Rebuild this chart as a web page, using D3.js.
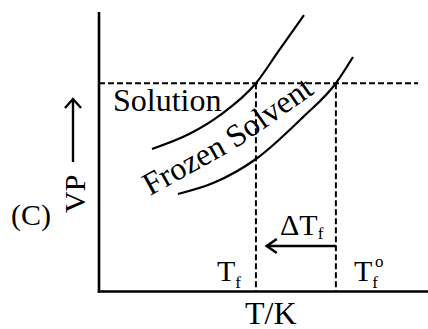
<!DOCTYPE html>
<html>
<head>
<meta charset="utf-8">
<script src="https://cdn.jsdelivr.net/npm/d3@7"></script>
</head>
<body style="margin:0;background:#fff">
<div id="wrap" style="position:relative;width:428px;height:329px;overflow:hidden">
  <svg id="chart" width="428" height="329" style="display:block;position:absolute;left:0;top:0"></svg>
  <div id="labels" style="position:absolute;left:0;top:0;width:428px;height:329px"></div>
</div>
<script>
// Vapour pressure vs temperature (arbitrary units, 0–10 on both axes)
const solutionCurve = [
  [1.61, 5.10], [2.77, 5.65], [3.68, 6.31], [4.77, 7.45], [5.44, 8.57], [6.23, 9.89]
];
const frozenSolventCurve = [
  [2.40, 3.49], [3.47, 3.88], [4.77, 4.74], [6.20, 6.24], [7.20, 7.45], [7.72, 8.39]
];
// Baseline along which the "Frozen Solvent" label runs
const frozenLabelPath = [
  [1.55, 3.42], [2.92, 4.38], [4.29, 5.21], [5.50, 6.28], [6.66, 7.17]
];
const freezingPoints = { Tf: 4.77, Tf0: 7.20 };   // solution, pure solvent
const equilibriumVP = 7.45;
const dashEndT = 9.70;
const deltaArrow = { from: 7.20, to: 5.10, vp: 1.63 };

const FONT = '"Liberation Serif"';
const BASE = 22;   // labels are laid out at this size and scaled up

const svg = d3.select("#chart");
const overlay = d3.select("#labels");
const x = d3.scaleLinear().domain([0, 10]).range([99, 428]);
const y = d3.scaleLinear().domain([0, 10]).range([291.5, 12]);

const line = d3.line().x(d => x(d[0])).y(d => y(d[1])).curve(d3.curveMonotoneX);

// Axes (plain lines, no ticks)
svg.append("line").attr("x1", x(0)).attr("x2", x(0)).attr("y1", y(10)).attr("y2", y(0) + 1.2)
  .attr("stroke", "#000").attr("stroke-width", 2.6);
svg.append("line").attr("x1", x(0) - 1.2).attr("x2", x(10)).attr("y1", y(0)).attr("y2", y(0))
  .attr("stroke", "#000").attr("stroke-width", 2.6);

// Dashed guides
const dash = "6,3";
svg.append("line").attr("x1", x(0)).attr("x2", x(dashEndT)).attr("y1", y(equilibriumVP)).attr("y2", y(equilibriumVP))
  .attr("stroke", "#000").attr("stroke-width", 2).attr("stroke-dasharray", dash);
[freezingPoints.Tf, freezingPoints.Tf0].forEach(t => {
  svg.append("line").attr("x1", x(t)).attr("x2", x(t)).attr("y1", y(equilibriumVP)).attr("y2", y(0))
    .attr("stroke", "#000").attr("stroke-width", 2).attr("stroke-dasharray", dash);
});

// Vapour-pressure curves
[solutionCurve, frozenSolventCurve].forEach(c => {
  svg.append("path").attr("d", line(c)).attr("fill", "none")
    .attr("stroke", "#000").attr("stroke-width", 2.2);
});

// ΔTf arrow
const ax1 = x(deltaArrow.from), ax2 = x(deltaArrow.to), ay = y(deltaArrow.vp);
svg.append("line").attr("x1", ax1).attr("x2", ax2).attr("y1", ay).attr("y2", ay)
  .attr("stroke", "#000").attr("stroke-width", 2.6);
svg.append("path").attr("d", `M${ax2 + 10},${ay - 7}L${ax2},${ay}L${ax2 + 10},${ay + 7}`)
  .attr("fill", "none").attr("stroke", "#000").attr("stroke-width", 2.6);

// Upward arrow beside the VP title
svg.append("line").attr("x1", 73).attr("x2", 73).attr("y1", 162).attr("y2", 99)
  .attr("stroke", "#000").attr("stroke-width", 2.4);
svg.append("path").attr("d", "M65,108L73,99L81,108").attr("fill", "none")
  .attr("stroke", "#000").attr("stroke-width", 2.4);

const labelPathNode = svg.append("path").attr("id", "frozenLabel")
  .attr("d", line(frozenLabelPath)).attr("fill", "none").node();

// Text block anchored at its baseline-left point (px, py), drawn at `target` px
function htmlLabel(parts, px, py, target, opt = {}) {
  const k = target / BASE;
  const div = overlay.append("div")
    .style("position", "absolute").style("left", "0px").style("top", "0px")
    .style("white-space", "pre").style("line-height", "normal")
    .style("font-family", FONT).style("font-size", BASE + "px").style("color", "#000");
  const marker = div.append("span").style("display", "inline-block")
    .style("width", "0px").style("height", "0px");
  parts.forEach(p => {
    const s = div.append("span").text(p.t);
    if (p.size) s.style("font-size", (p.size / k) + "px");
    if (p.dy) s.style("position", "relative").style("top", (p.dy / k) + "px");
  });
  const r0 = div.node().getBoundingClientRect();
  const base = marker.node().getBoundingClientRect().top - r0.top;
  const w = r0.width;
  const left = opt.anchor === "middle" ? px - w * k / 2 : px;
  div.style("left", left + "px").style("top", (py - base) + "px")
    .style("transform-origin", `0px ${base}px`)
    .style("transform", `${opt.rotate ? `rotate(${opt.rotate}deg) ` : ""}scale(${k})`);
  return w * k;
}

function measure(str, target) {
  const d = overlay.append("span").style("position", "absolute").style("white-space", "pre")
    .style("font-family", FONT).style("font-size", BASE + "px").text(str);
  const w = d.node().getBoundingClientRect().width;
  d.remove();
  return w * target / BASE;
}

function svgFallback() {
  overlay.selectAll("*").remove();
  const t = (px, py, size) => svg.append("text").attr("x", px).attr("y", py)
    .attr("font-size", size).style("font-family", FONT);
  t(x(0.42), y(6.46), 32).text("Solution");
  svg.append("text").attr("font-size", 32).style("font-family", FONT)
    .append("textPath").attr("href", "#frozenLabel").text("Frozen Solvent");
  const d = t(280, 235, 30); d.append("tspan").text("ΔT");
  d.append("tspan").attr("font-size", 17).attr("dy", 4).text("f");
  const a = t(x(freezingPoints.Tf) - 39, 281, 30); a.append("tspan").text("T");
  a.append("tspan").attr("font-size", 17).attr("dy", 7).text("f");
  const b = t(x(freezingPoints.Tf0) + 18, 281, 30); b.append("tspan").text("T");
  b.append("tspan").attr("font-size", 17).attr("dy", 7).text("f");
  t(x(freezingPoints.Tf0) + 39, 267, 17).text("o");
  t(271, 324, 32).attr("text-anchor", "middle").text("T/K");
  svg.append("text").attr("transform", "translate(85,213) rotate(-90)").attr("font-size", 30)
    .style("font-family", FONT).text("VP");
  t(11, 225, 30).text("(C)");
}

try {
  htmlLabel([{ t: "Solution" }], x(0.42), y(6.46), 32);

  // "Frozen Solvent" follows the label path, one word at a time
  let s = 0;
  const space = measure(" ", 32);
  ["Frozen", "Solvent"].forEach(word => {
    const w = measure(word, 32);
    const p0 = labelPathNode.getPointAtLength(s);
    const p1 = labelPathNode.getPointAtLength(s + w);
    const ang = Math.atan2(p1.y - p0.y, p1.x - p0.x) * 180 / Math.PI;
    htmlLabel([{ t: word }], p0.x, p0.y, 32, { rotate: ang });
    s += w + space;
  });

  htmlLabel([{ t: "ΔT" }, { t: "f", size: 17, dy: 4 }], 280, 235, 30);
  htmlLabel([{ t: "T" }, { t: "f", size: 17, dy: 7 }], x(freezingPoints.Tf) - 39, 281, 30);
  htmlLabel([{ t: "T" }, { t: "f", size: 17, dy: 7 }], x(freezingPoints.Tf0) + 18, 281, 30);
  htmlLabel([{ t: "o" }], x(freezingPoints.Tf0) + 39, 267, 17);
  htmlLabel([{ t: "T/K" }], 271, 324, 32, { anchor: "middle" });
  htmlLabel([{ t: "VP" }], 85, 213, 30, { rotate: -90 });
  htmlLabel([{ t: "(C)" }], 11, 225, 30);
} catch (e) {
  svgFallback();
}
</script>
</body>
</html>
